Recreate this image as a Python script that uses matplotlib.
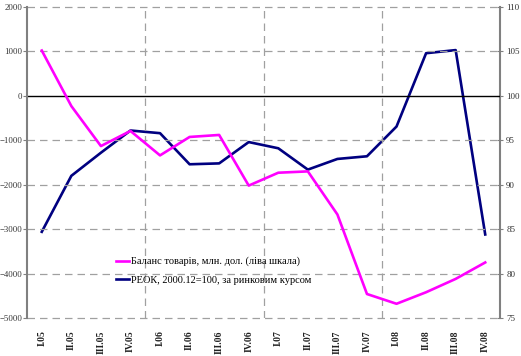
import matplotlib
matplotlib.use("Agg")
import matplotlib.pyplot as plt

quarters = ["I.05", "II.05", "III.05", "IV.05", "I.06", "II.06", "III.06", "IV.06",
            "I.07", "II.07", "III.07", "IV.07", "I.08", "II.08", "III.08", "IV.08"]
balance = [1020, -230, -1130, -790, -1340, -925, -880, -2020,
           -1730, -1700, -2670, -4460, -4680, -4420, -4120, -3750]
reer = [84.7, 91.0, 93.6, 96.1, 95.8, 92.3, 92.4, 94.8,
        94.1, 91.7, 92.9, 93.2, 96.55, 104.8, 105.15, 84.4]
left_ticks = [2000, 1000, 0, -1000, -2000, -3000, -4000, -5000]
right_ticks = [110, 105, 100, 95, 90, 85, 80, 75]
label_balance = "Баланс товарів, млн. дол. (ліва шкала)"
label_reer = "РЕОК, 2000.12=100, за ринковим курсом"

plt.rcParams['font.family'] = ['Liberation Serif', 'DejaVu Serif']

fig = plt.figure(figsize=(5.21, 3.56), dpi=100)
ax = fig.add_axes([27/521, 1-318/356, 473/521, 311/356])
ax2 = ax.twinx()

x = list(range(len(quarters)))
grid_c = "#a0a0a0"
for v in left_ticks:
    if v != 0:
        ax.axhline(v, color=grid_c, lw=0.9, ls=(0, (6, 4)), zorder=1, clip_on=False)
for gx in [3.5, 7.5, 11.5]:
    ax.axvline(gx, color=grid_c, lw=0.9, ls=(0, (6, 4)), zorder=1)
ax.axhline(0, color="black", lw=1.0, zorder=2)

l1, = ax.plot(x, balance, color="#FF00FF", lw=1.9, zorder=4, label=label_balance)
l2, = ax2.plot(x, reer, color="#000080", lw=1.9, zorder=4, label=label_reer)

ax.set_xlim(-0.5, len(quarters) - 0.5)
ax.set_ylim(-5000, 2000)
ax2.set_ylim(75, 110)
ax.set_yticks(left_ticks)
ax2.set_yticks(right_ticks)
ax.set_xticks(x)
ax.set_xticklabels(quarters, rotation=90, fontsize=7, fontweight="bold", color="#222222")
ax.tick_params(axis="x", length=0, pad=9)
ax.tick_params(axis="y", labelsize=6.3, length=3, width=0.8, color="#808080", labelcolor="#333333", pad=0.5)
ax2.tick_params(axis="y", labelsize=6.5, length=5, width=0.8, color="#808080", labelcolor="#333333",
                direction="inout", pad=2)

for a in (ax, ax2):
    for s in ("top", "bottom"):
        a.spines[s].set_visible(False)
    a.spines["left"].set_color("#808080")
    a.spines["right"].set_color("#808080")
    a.spines["left"].set_linewidth(1.5)
    a.spines["right"].set_linewidth(1.5)
ax2.spines["left"].set_visible(False)
ax.spines["right"].set_visible(False)

ax.set_zorder(ax2.get_zorder() + 1)
ax.patch.set_visible(False)

leg = ax.legend([l1, l2], [label_balance, label_reer], loc="upper left",
                bbox_to_anchor=(0.18, 0.21), frameon=False, fontsize=7.5,
                handlelength=1.2, handletextpad=0.25, labelspacing=0.9, borderaxespad=0)

fig.savefig("out.png", dpi=100)
